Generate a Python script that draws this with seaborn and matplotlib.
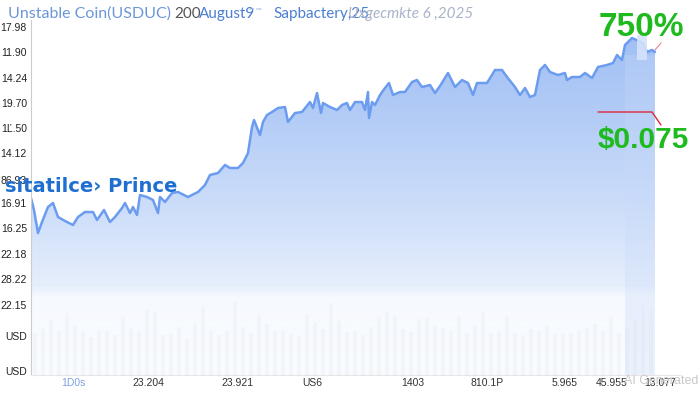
import numpy as np
import pandas as pd
import matplotlib
matplotlib.use("Agg")
import matplotlib.pyplot as plt
from matplotlib.colors import LinearSegmentedColormap
import seaborn as sns

# ---- data ----
days = [0, 1.5, 3.5, 5.5, 8.5, 11, 13.5, 17, 21, 23.5,
        27, 31, 33, 36.5, 39.5, 42, 45.5, 47, 49.5, 51,
        53, 54.5, 58, 61, 63.5, 64.5, 67, 70.5, 73.5, 78.5,
        83.5, 87, 89.5, 93.5, 97, 99.5, 103.5, 106, 108.5, 110.5,
        111.5, 114.5, 116, 118, 120.5, 123.5, 127, 128.5, 132, 135.5,
        139.5, 141, 143, 145, 146, 149.5, 153, 155.5, 158, 159.5,
        162, 165.5, 167, 168.5, 169, 170.5, 172, 174.5, 177, 179,
        181, 184.5, 187, 190.5, 193, 195.5, 199.5, 202, 204.5, 208.5,
        212, 215.5, 218.5, 221, 223, 228, 232, 235.5, 238, 242,
        244.5, 247, 249.5, 252, 254.5, 257, 259.5, 263.5, 267, 268,
        270.5, 274.5, 277, 280.5, 283.5, 288, 291, 293, 295.5, 297,
        300.5, 306, 308, 310.5, 312]
price = [17.7, 16.5, 14.2, 15.3, 16.8, 17.2, 15.8, 15.4, 15.0, 15.8,
         16.3, 16.3, 15.5, 16.5, 15.3, 15.8, 16.7, 17.2, 16.2, 16.8,
         16.0, 18.0, 17.8, 17.5, 16.2, 17.8, 17.3, 18.2, 18.3, 17.8,
         18.3, 19.0, 20.0, 20.2, 21.0, 20.7, 20.7, 21.2, 22.2, 24.8,
         25.5, 24.0, 25.3, 26.0, 26.3, 26.7, 26.8, 25.3, 26.2, 26.3,
         27.3, 26.7, 28.2, 26.2, 27.2, 26.8, 26.5, 27.0, 27.2, 26.5,
         27.3, 27.3, 26.5, 28.3, 25.7, 27.3, 27.0, 28.0, 28.7, 29.2,
         28.0, 28.3, 28.3, 29.3, 29.5, 28.8, 29.0, 28.2, 28.9, 30.2,
         28.8, 29.5, 29.2, 28.0, 29.2, 29.2, 30.5, 30.5, 29.8, 28.8,
         28.0, 28.7, 27.8, 28.0, 30.5, 31.0, 30.3, 30.0, 30.2, 29.5,
         29.8, 29.8, 30.2, 29.7, 30.8, 31.0, 31.2, 32.0, 31.5, 33.0,
         33.7, 33.2, 32.3, 32.5, 32.3]

vol_days = [2, 6, 10, 14, 18, 22, 26, 30, 34, 38, 42, 46, 50, 54, 58, 62, 66, 70, 74, 78,
            82, 86, 90, 94, 98, 102, 106, 110, 114, 118, 122, 126, 130, 134, 138, 142, 146, 150, 154, 158,
            162, 166, 170, 174, 178, 182, 186, 190, 194, 198, 202, 206, 210, 214, 218, 222, 226, 230, 234, 238,
            242, 246, 250, 254, 258, 262, 266, 270, 274, 278, 282, 286, 290, 294, 298, 302, 306, 310]
volume = [4.2, 4.6, 5.5, 4.4, 6.2, 5.0, 4.3, 3.8, 4.5, 4.4, 4.0, 5.8, 4.6, 4.4, 6.5, 6.3, 4.0, 4.1, 4.8, 3.6,
          5.2, 6.8, 4.5, 4.0, 4.4, 7.3, 4.8, 4.2, 6.0, 5.1, 4.4, 4.5, 4.1, 3.9, 6.1, 5.3, 4.6, 7.2, 5.4, 4.3,
          4.4, 4.0, 4.8, 5.8, 6.3, 5.9, 4.6, 4.3, 5.6, 5.7, 5.0, 4.7, 4.5, 5.9, 4.2, 4.9, 6.3, 4.2, 4.4, 5.9,
          4.2, 4.0, 4.6, 4.4, 5.0, 4.1, 4.1, 4.2, 4.5, 4.7, 5.1, 4.4, 5.8, 4.2, 4.7, 5.6, 7.0, 6.5]

ytick_vals = [34.8, 32.3, 29.7, 27.2, 24.7, 22.2, 19.5, 17.2, 14.7, 12.1, 9.6, 7.0, 3.9, 0.4]
ytick_labels = ["17.98", "11.90", "14.24", "19.70", "1Ľ.50", "14.12", "86.93", "16.91", "16.25",
                "22.18", "28.22", "22.15", "USD", "USD"]
xtick_vals = [21, 58.5, 103, 140.5, 191, 228, 267, 290.5, 314.5]
xtick_labels = ["1D0s", "23.204", "23.921", "US6", "1403", "810.1P", "5.965", "45.955", "13.077"]

title_main = "Unstable Coin(USDUC)"
title_parts = ["200", "August9", "ˣᵒ ᵒᵒ", "Sapbactery,25", "Uxgecmkte 6 ,2025"]
price_label = "sitatilce› Prince"
pct_text = "750%"
price_text = "$0.075"

df = pd.DataFrame({"day": days, "price": price})
dv = pd.DataFrame({"day": vol_days, "volume": volume})

sns.set_theme(style="white")
plt.rcParams['font.family'] = ['Liberation Sans', 'DejaVu Sans']

W, H = 700, 393
fig = plt.figure(figsize=(7, 3.93), dpi=100)
ax = fig.add_axes([31 / W, 1 - 375 / H, (680 - 31) / W, (375 - 20) / H])
XMAX, YMAX = 324.5, 35.5
ax.set_xlim(0, XMAX)
ax.set_ylim(0, YMAX)

# gradient fill under the line
fill = ax.fill_between(df["day"], df["price"], 0, color="none", lw=0)
cmap = LinearSegmentedColormap.from_list(
    "g", [(0.0, "#fafcfe"), (0.22, "#f6f9fe"), (0.25, "#e6eefc"), (0.45, "#cfdffa"),
          (0.75, "#b1cbf6"), (1.0, "#9ebdf4")])
grad = np.linspace(0, 1, 400).reshape(-1, 1)
im = ax.imshow(grad, extent=[0, XMAX, 0, YMAX], origin="lower", aspect="auto", cmap=cmap, zorder=1)
im.set_clip_path(fill.get_paths()[0], transform=ax.transData)

# faint volume bars
ax.bar(dv["day"], dv["volume"], width=2.0, color="#eef1f6", alpha=0.6, zorder=1.5, lw=0)

# lighter column at the end
ax.add_patch(plt.Rectangle((297, 0), 15, 32, color="#c8daf9", alpha=0.3, lw=0, zorder=1.6))
ax.add_patch(plt.Rectangle((303, 31.5), 5, 2.5, color="#d5e3fb", alpha=0.9, lw=0, zorder=3))

sns.lineplot(data=df, x="day", y="price", ax=ax, color="#6c9cf0", lw=1.8, zorder=2)

ax.set_xlabel("")
ax.set_ylabel("")
ax.set_yticks(ytick_vals)
ax.set_yticklabels(ytick_labels, fontsize=7.5, color="#222222")
ax.set_xticks(xtick_vals)
ax.set_xticklabels(xtick_labels, fontsize=7.5, color="#333333")
ax.get_xticklabels()[0].set_color("#7fa0e0")
ax.tick_params(axis="y", length=0, pad=3)
ax.tick_params(axis="x", length=0, pad=2)
for s in ["top", "right"]:
    ax.spines[s].set_visible(False)
ax.spines["left"].set_color("#cccccc")
ax.spines["bottom"].set_color("#e6e6e6")
ax.spines["left"].set_linewidth(0.8)
ax.spines["bottom"].set_linewidth(0.8)

# title texts
tf = ['Lato', 'DejaVu Sans']
fig.text(8 / W, 1 - 14 / H, title_main, fontsize=11.5, color="#6b97d8", va="center", ha="left", family=tf)
fig.text(174 / W, 1 - 14 / H, title_parts[0], fontsize=11, color="#555555", va="center", family=tf)
fig.text(199 / W, 1 - 14 / H, title_parts[1], fontsize=11, color="#4a7fd4", va="center", family=tf)
fig.text(249 / W, 1 - 12 / H, title_parts[2], fontsize=6, color="#9ab0dd", va="center", family=tf)
fig.text(273 / W, 1 - 14 / H, title_parts[3], fontsize=11, color="#4a7fd4", va="center", family=tf)
fig.text(348 / W, 1 - 14 / H, title_parts[4], fontsize=11, color="#aab4c8", va="center",
         style="italic", family=tf)

fig.text(5 / W, 1 - 186 / H, price_label, fontsize=14, color="#1f6fd0", va="center", ha="left",
         fontweight="bold", family=['DejaVu Sans'])

fig.text(641 / W, 1 - 27 / H, pct_text, fontsize=24, color="#1fba1f", fontweight="bold",
         va="center", ha="center")
fig.text(643 / W, 1 - 140 / H, price_text, fontsize=21.5, color="#1fba1f", fontweight="bold",
         va="center", ha="center")

# red annotation lines (figure coords)
fig.add_artist(plt.Line2D([598 / W, 652 / W, 661 / W], [1 - 112 / H, 1 - 112 / H, 1 - 125 / H],
                          color="#e0283c", lw=1.0))
fig.add_artist(plt.Line2D([655 / W, 661 / W], [1 - 50 / H, 1 - 43 / H], color="#e88090", lw=0.8))

fig.text(698 / W, 1 - 381 / H, "AI Generated", fontsize=9, color="#c8c8c8", va="center", ha="right")

fig.savefig("out.png", dpi=100)
